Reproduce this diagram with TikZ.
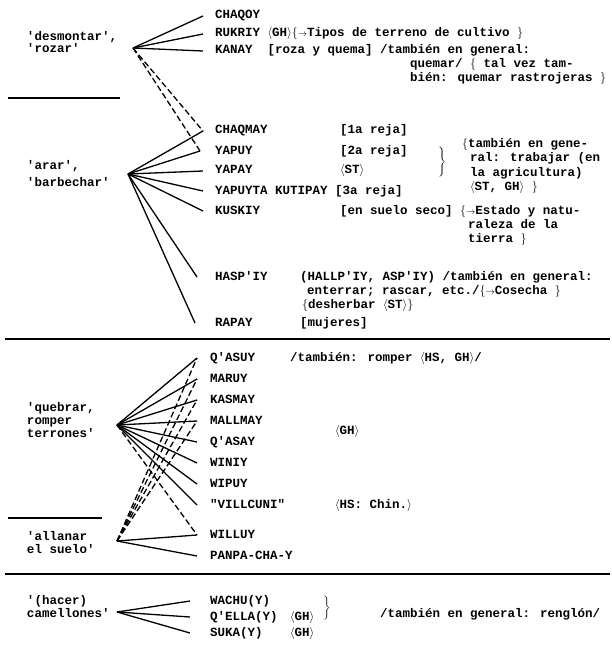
\documentclass[tikz,border=0pt]{standalone}
\usepackage{fontspec}
\newfontfamily\twfont{Liberation Mono}
\newcommand{\tyAng}[1]{$\big\langle$#1$\big\rangle$}
\newcommand{\tyLb}{$\big\{$}
\newcommand{\tyRb}{$\big\}$}
\newcommand{\tyArr}{${\scriptstyle\rightarrow}$}
\begin{document}
\begin{tikzpicture}[x=1pt,y=-1pt,
  tw/.style={font=\twfont\fontsize{12.5}{13}\selectfont\bfseries, anchor=west, inner sep=0pt, outer sep=0pt, text height=8pt, text depth=2pt},
  link/.style={line width=1.3pt},
  dlink/.style={line width=1.3pt, dash pattern=on 6pt off 3pt},
  rulebar/.style={line width=2pt}]
\useasboundingbox (0,0) rectangle (612,655);
% ---------- section 1
\node[tw] (desm) at (27,38) {'desmontar',};
\node[tw] (roz) at (27,50) {'rozar'};
\coordinate (hA) at (133,48);
\node[tw] (chaqoy) at (215,16) {CHAQOY};
\node[tw] (rukriy) at (215,34) {RUKRIY \tyAng{GH}\tyLb\tyArr Tipos de terreno de cultivo \tyRb};
\node[tw] (kanay) at (215,51) {KANAY\ \ [roza y quema] /también en general:};
\node[tw] (quem) at (410,65) {quemar/ \tyLb\ tal vez tam-};
\node[tw] (bien) at (410,79) {bién: quemar rastrojeras \tyRb};
\draw[rulebar] (8,98) -- (120,98);
\draw[link] (hA) -- ([xshift=-12pt]chaqoy.west);
\draw[link] (hA) -- ([xshift=-12pt]rukriy.west);
\draw[link] (hA) -- ([xshift=-12pt]kanay.west);
% ---------- section 2
\node[tw] (arar) at (27,166) {'arar',};
\node[tw] (barb) at (27,183) {'barbechar'};
\coordinate (hB) at (128,174);
\node[tw] (chaqmay) at (215,131) {CHAQMAY};
\node[tw] (reja1) at (340,131) {[1a reja]};
\node[tw] (yapuy) at (215,151) {YAPUY};
\node[tw] (reja2) at (340,151) {[2a reja]};
\node[tw] (yapay) at (215,171) {YAPAY};
\node[tw] (st1) at (340,171) {\tyAng{ST}};
\node[tw, font=\fontsize{12.5}{13}\selectfont] (br1) at (438,162) {$\Bigg\}$};
\node[tw] (tamb1) at (462,145) {\tyLb también en gene-};
\node[tw] (tamb2) at (470,159) {ral: trabajar (en};
\node[tw] (tamb3) at (470,173) {la agricultura)};
\node[tw] (tamb4) at (470,187) {\tyAng{ST, GH} \tyRb};
\node[tw] (yapuyta) at (215,191) {YAPUYTA KUTIPAY [3a reja]};
\node[tw] (kuskiy) at (215,211) {KUSKIY};
\node[tw] (seco) at (340,211) {[en suelo seco] \tyLb\tyArr Estado y natu-};
\node[tw] (ral) at (468,225) {raleza de la};
\node[tw] (tier) at (468,239) {tierra \tyRb};
\node[tw] (haspiy) at (215,277) {HASP'IY};
\node[tw] (hallp) at (300,277) {(HALLP'IY, ASP'IY) /también en general:};
\node[tw] (enterr) at (307,291) {enterrar; rascar, etc./\tyLb\tyArr Cosecha \tyRb};
\node[tw] (desher) at (302,305) {\tyLb desherbar \tyAng{ST}\tyRb};
\node[tw] (rapay) at (215,323) {RAPAY};
\node[tw] (mujer) at (300,323) {[mujeres]};
\draw[dlink] (hA) -- ([xshift=-12pt]chaqmay.west);
\draw[dlink] (hA) -- ([xshift=-15pt]yapuy.west);
\draw[link] (hB) -- ([xshift=-12pt]chaqmay.west);
\draw[link] (hB) -- ([xshift=-15pt]yapuy.west);
\draw[link] (hB) -- ([xshift=-12pt]yapay.west);
\draw[link] (hB) -- ([xshift=-12pt]yapuyta.west);
\draw[link] (hB) -- ([xshift=-12pt]kuskiy.west);
\draw[link] (hB) -- ([xshift=-18pt]haspiy.west);
\draw[link] (hB) -- ([xshift=-20pt]rapay.west);
\draw[rulebar] (5,339) -- (610,339);
% ---------- section 3
\node[tw] (queb) at (27,408) {'quebrar,};
\node[tw] (romp) at (27,421) {romper};
\node[tw] (terr) at (27,434) {terrones'};
\coordinate (hC) at (117,425);
\draw[rulebar] (8,518) -- (102,518);
\node[tw] (allan) at (27,537) {'allanar};
\node[tw] (suelo) at (27,550) {el suelo'};
\coordinate (hD) at (117,541);
\node[tw] (qasuy) at (210,358) {Q'ASUY};
\node[tw] (romper) at (290,358) {/también: romper \tyAng{HS, GH}/};
\node[tw] (maruy) at (210,379) {MARUY};
\node[tw] (kasmay) at (210,400) {KASMAY};
\node[tw] (mallmay) at (210,421) {MALLMAY};
\node[tw] (gh2) at (335,431) {\tyAng{GH}};
\node[tw] (qasay) at (210,442) {Q'ASAY};
\node[tw] (winiy) at (210,463) {WINIY};
\node[tw] (wipuy) at (210,484) {WIPUY};
\node[tw] (villc) at (210,505) {"VILLCUNI"};
\node[tw] (chin) at (335,505) {\tyAng{HS: Chin.}};
\node[tw] (willuy) at (210,535) {WILLUY};
\node[tw] (panpa) at (210,556) {PANPA-CHA-Y};
\foreach \n in {qasuy,maruy,kasmay,mallmay,qasay,winiy,wipuy,villc}
  \draw[link] (hC) -- ([xshift=-13pt]\n.west);
\draw[dlink] (hC) -- ([xshift=-13pt]willuy.west);
\foreach \n in {qasuy,maruy,kasmay,mallmay}
  \draw[dlink] (hD) -- ([xshift=-13pt]\n.west);
\draw[link] (hD) -- ([xshift=-13pt]willuy.west);
\draw[link] (hD) -- ([xshift=-13pt]panpa.west);
\draw[rulebar] (5,574) -- (610,574);
% ---------- section 4
\node[tw] (hacer) at (27,601) {'(hacer)};
\node[tw] (camel) at (27,614) {camellones'};
\coordinate (hE) at (117,612);
\node[tw] (wachu) at (210,601) {WACHU(Y)};
\node[tw] (qella) at (210,617) {Q'ELLA(Y)};
\node[tw] (gh3) at (290,617) {\tyAng{GH}};
\node[tw] (suka) at (210,633) {SUKA(Y)};
\node[tw] (gh4) at (290,633) {\tyAng{GH}};
\node[tw, font=\fontsize{12.5}{13}\selectfont] (br2) at (323,608) {$\bigg\}$};
\node[tw] (rengl) at (380,614) {/también en general: renglón/};
\draw[link] (hE) -- ([xshift=-20pt]wachu.west);
\draw[link] (hE) -- ([xshift=-20pt]qella.west);
\draw[link] (hE) -- ([xshift=-20pt]suka.west);
\end{tikzpicture}
\end{document}
